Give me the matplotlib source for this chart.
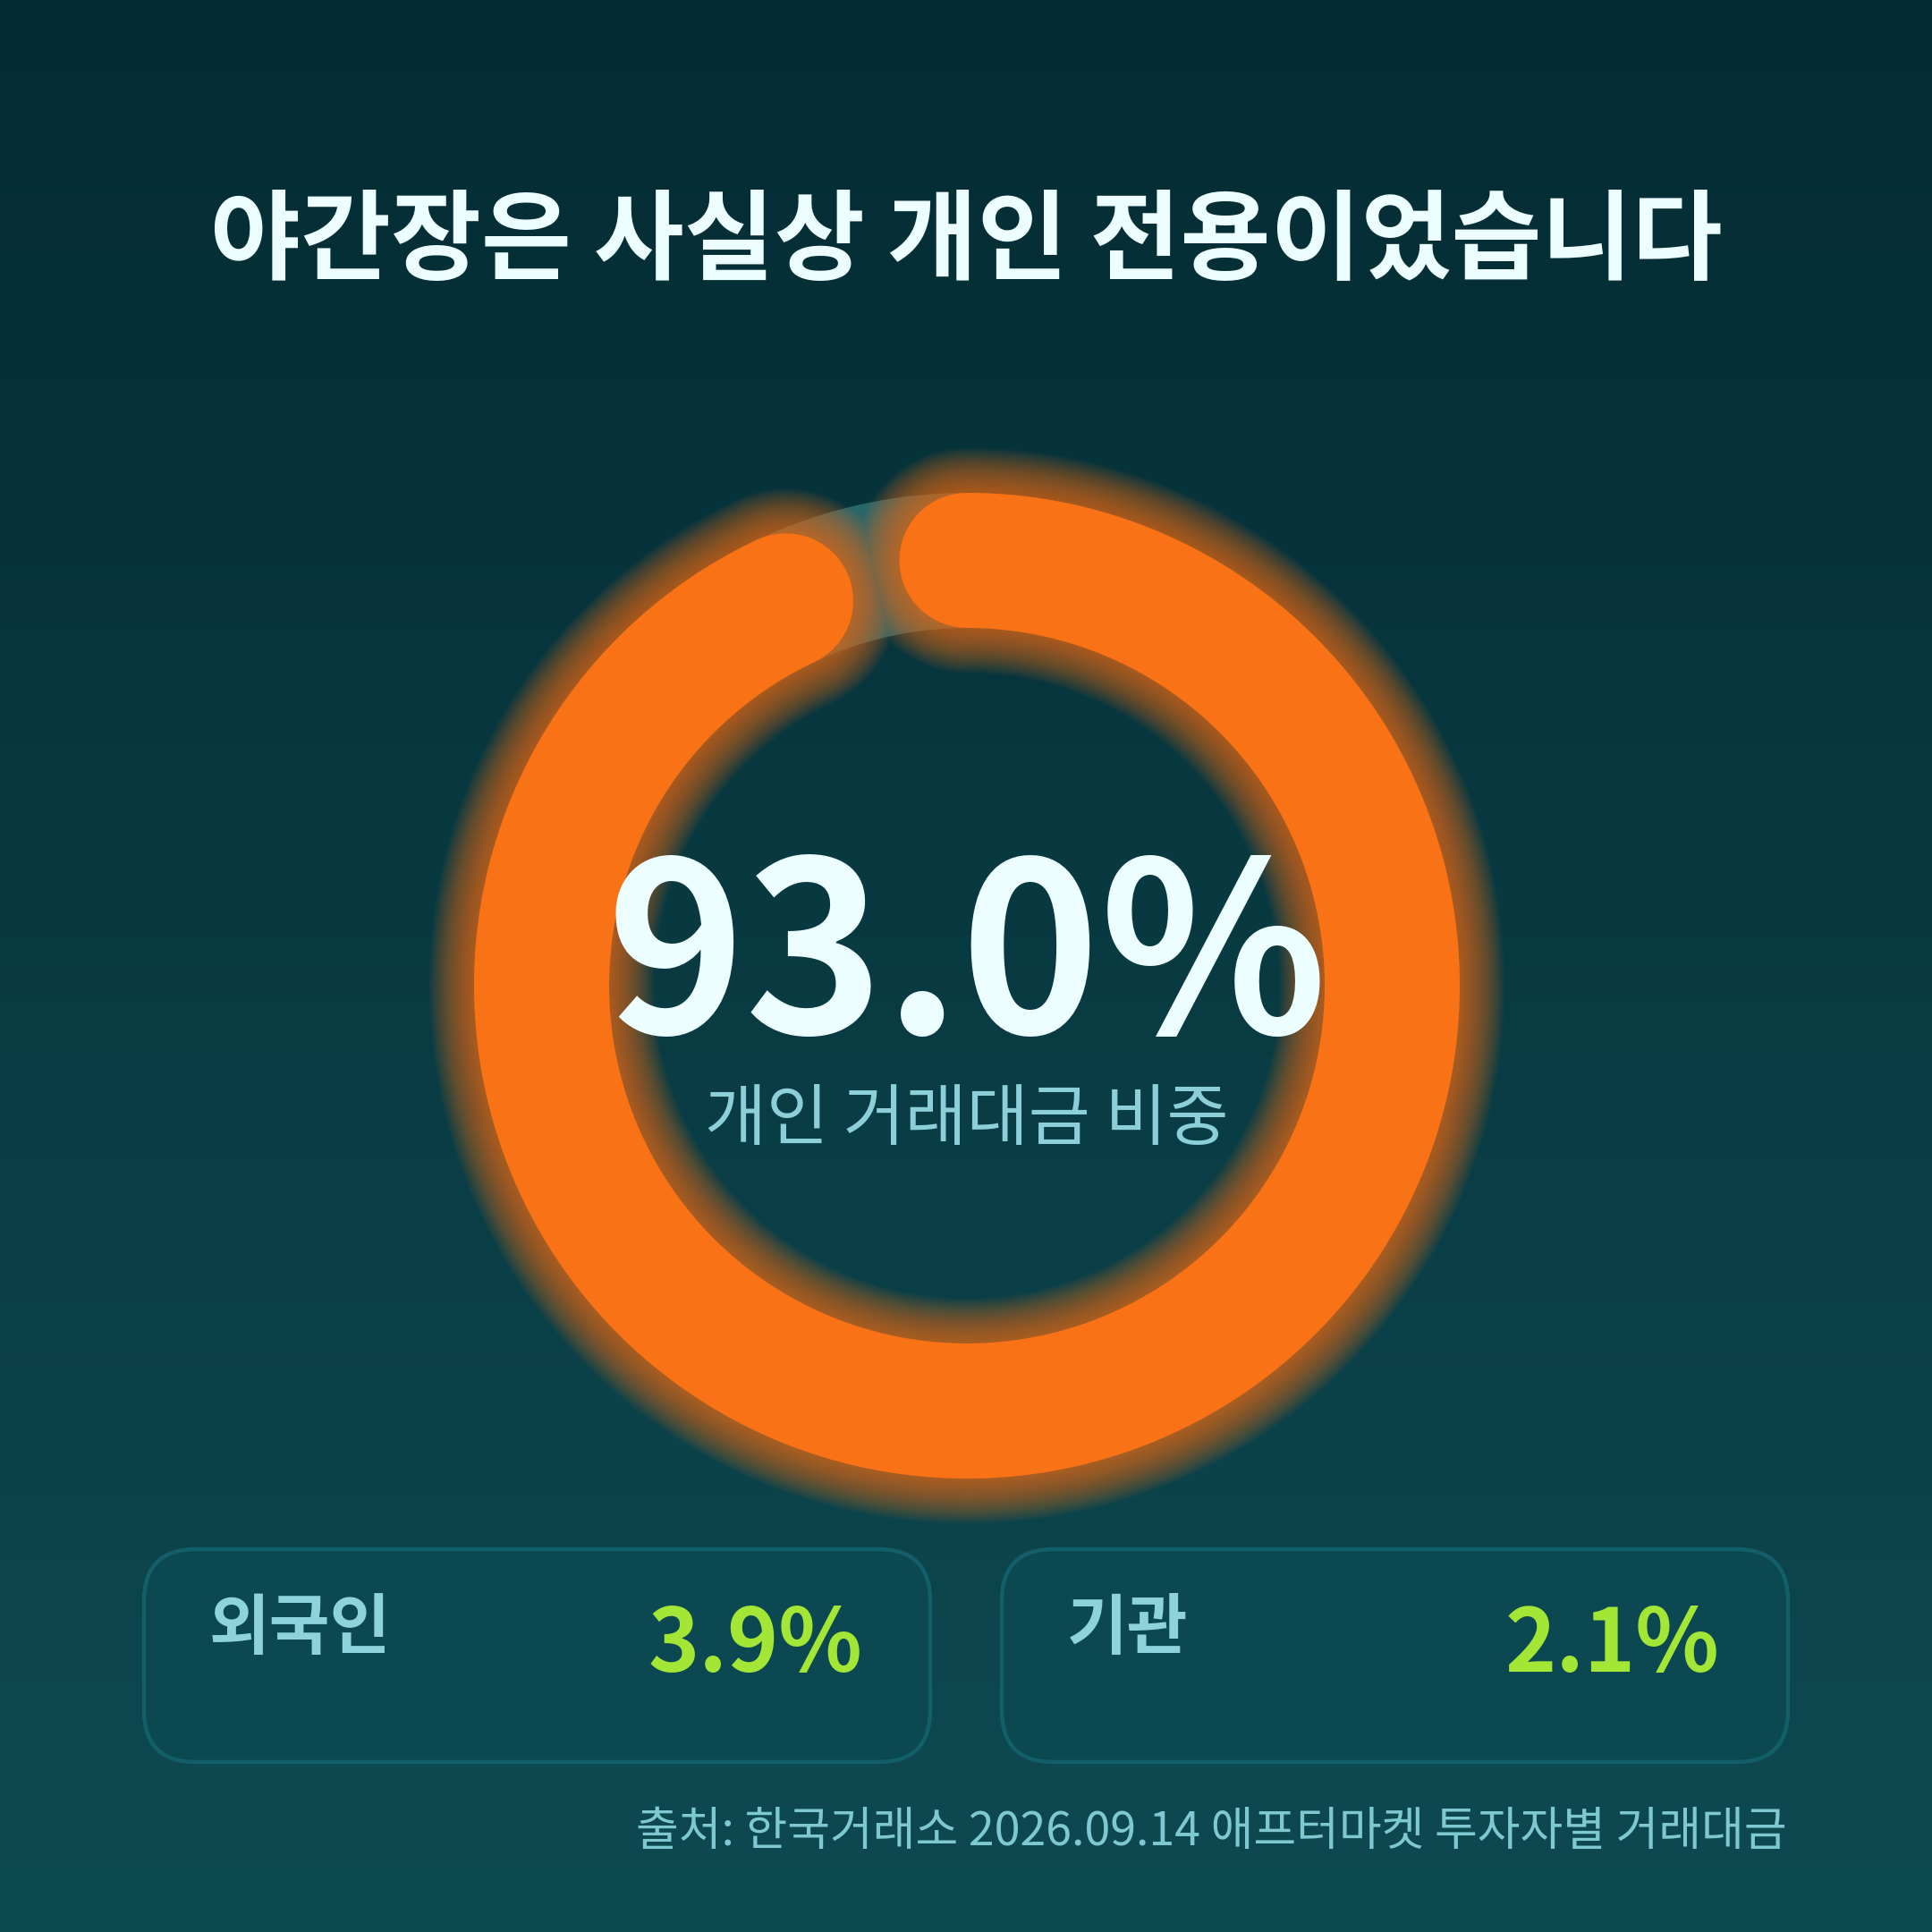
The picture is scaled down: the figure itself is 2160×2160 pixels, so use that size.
import numpy as np
import matplotlib.pyplot as plt
from matplotlib.patches import FancyBboxPatch, Wedge
from matplotlib.colors import to_rgb

# data
title = "야간장은 사실상 개인 전용이었습니다"
main_label = "개인 거래대금 비중"
main_share = 93.0
side_labels = ["외국인", "기관"]
side_shares = [3.9, 2.1]
source = "출처: 한국거래소 2026.09.14 애프터마켓 투자자별 거래대금"

KR = ['Noto Sans CJK KR', 'DejaVu Sans']
DPI = 200
PT = 72 / DPI  # pixels -> points

fig = plt.figure(figsize=(10.8, 10.8), dpi=DPI)
ax = fig.add_axes([0, 0, 1, 1])
ax.set_xlim(0, 2160)
ax.set_ylim(2160, 0)
ax.axis('off')

# background gradient
top = np.array(to_rgb('#042b33'))
bot = np.array(to_rgb('#0e4a52'))
t = np.linspace(0, 1, 256)[:, None, None]
grad = top * (1 - t) + bot * t
ax.imshow(grad, extent=[0, 2160, 2160, 0], aspect='auto', zorder=0)

# ring
cx, cy = 1081, 1102
r_out, r_in = 551, 400
rm = (r_out + r_in) / 2
ring_w = r_out - r_in

ax.add_patch(Wedge((cx, cy), r_out, 0, 360, width=ring_w,
                   facecolor='#2c6669', edgecolor='none', zorder=1))

theta = np.radians(np.linspace(90, 90 - 360 * main_share / 100, 600))
xs = cx + rm * np.cos(theta)
ys = cy - rm * np.sin(theta)

# glow
n = 22
for i in range(n):
    extra = 100 * (1 - i / n)
    ax.plot(xs, ys, color='#f97316', lw=(ring_w + extra) * PT, alpha=0.05,
            solid_capstyle='round', zorder=2)
ax.plot(xs, ys, color='#f97316', lw=ring_w * PT, solid_capstyle='round', zorder=3)

# title
ax.text(1080, 273, title, ha='center', va='center', fontsize=39.5,
        fontweight='bold', color='#ecfeff', family=KR, zorder=5)

# center value
ax.text(1081, 1155, f"{main_share:.1f}%", ha='center', va='baseline',
        fontsize=95, fontweight='bold', color='#ecfeff', family=KR, zorder=5)
ax.text(1081, 1252, main_label, ha='center', va='center', fontsize=27,
        fontweight='light', color='#8ccfd8', family=KR, zorder=5)

# side boxes
box_x = [161, 1120]
box_w, box_y, box_h = 879, 1732, 238
for bx, lab, val in zip(box_x, side_labels, side_shares):
    ax.add_patch(FancyBboxPatch((bx, box_y), box_w, box_h,
                                boxstyle="round,pad=0,rounding_size=58",
                                facecolor='#0c4852', edgecolor='#135f69',
                                lw=1.6, zorder=4))
    ax.text(bx + 73, 1822, lab, ha='left', va='center', fontsize=26.5,
            fontweight='bold', color='#8ed2dc', family=KR, zorder=5)
    ax.text(bx + box_w - 76, 1869, f"{val:.1f}%", ha='right', va='baseline',
            fontsize=35, fontweight='bold', color='#a3e635', family=KR, zorder=5)

# source
ax.text(1998, 2048, source, ha='right', va='center', fontsize=18.7,
        color='#7ec8d2', family=KR, zorder=5)

fig.savefig('out.png', dpi=DPI)
